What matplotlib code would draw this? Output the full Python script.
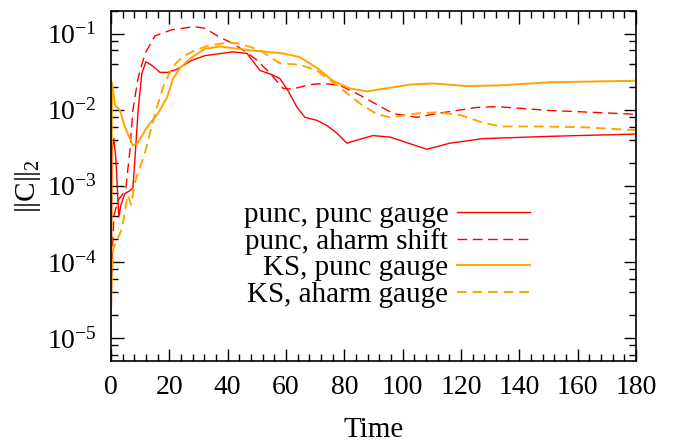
import numpy as np
import matplotlib
matplotlib.use("Agg")
import matplotlib.pyplot as plt
from matplotlib.ticker import LogLocator, MultipleLocator

# ---- data (time, log10 ||C||_2) ----
t_pp = [0, 0.35, 1.0, 1.7, 2.4, 2.7, 3.4, 4.8, 6.2, 7.5, 8.2, 9.3, 10.6, 12.0, 14.1,
        16.8, 19.5, 22.6, 27.8, 32.2, 41.8, 46.6, 51.1, 55.2, 57.9, 60.7, 63.8, 66.5,
        70.6, 74.1, 77.5, 80.9, 84.3, 89.8, 95.7, 108.3, 116.2, 127.5, 150.5, 180]
c_pp = [-4.9, -2.53, -2.38, -2.66, -3.19, -3.41, -3.25, -3.10, -3.07, -3.03, -2.66, -2.01,
        -1.52, -1.37, -1.42, -1.51, -1.51, -1.47, -1.35, -1.29, -1.24, -1.26, -1.485,
        -1.54, -1.59, -1.75, -1.97, -2.10, -2.14, -2.21, -2.31, -2.44, -2.40, -2.34,
        -2.36, -2.52, -2.44, -2.38, -2.35, -2.32]

t_pa = [0, 0.35, 1.0, 2.4, 3.8, 5.1, 6.5, 7.5, 9.3, 11.7, 15.1, 20.9, 26.4, 28.8, 32.2,
        37.4, 41.8, 46.6, 50.1, 54.5, 59.0, 62.1, 68.2, 72.7, 78.5, 85.4, 96.7, 104.9,
        111.8, 125.5, 132.3, 150.5, 180]
c_pa = [-5.0, -3.98, -3.39, -3.19, -3.12, -3.03, -2.53, -2.01, -1.58, -1.26, -1.03,
        -0.95, -0.92, -0.91, -0.93, -1.05, -1.13, -1.25, -1.35, -1.52, -1.72, -1.73,
        -1.67, -1.655, -1.68, -1.81, -2.05, -2.10, -2.05, -1.97, -1.96, -2.01, -2.06]

t_kp = [0, 0.34, 1.4, 3.1, 4.8, 7.5, 9.3, 12.7, 16.1, 19.2, 21.3, 23.7, 27.8, 32.2,
        37.4, 47.7, 59.0, 64.8, 70.6, 76.1, 81.9, 87.8, 102.5, 110.4, 122.1, 133.4,
        150.5, 180]
c_kp = [-5.0, -1.64, -1.94, -2.01, -2.23, -2.47, -2.43, -2.21, -2.05, -1.84, -1.59,
        -1.45, -1.31, -1.20, -1.17, -1.22, -1.26, -1.31, -1.45, -1.62, -1.72, -1.76,
        -1.67, -1.655, -1.69, -1.68, -1.64, -1.62]

t_ka = [0, 0.7, 2.1, 3.8, 5.1, 5.8, 6.9, 8.2, 11.7, 15.1, 17.8, 20.9, 24.3, 28.8, 33.3,
        39.8, 44.2, 51.1, 57.9, 64.8, 70.6, 78.5, 85.4, 91.2, 95.7, 104.9, 111.8,
        119.7, 127.5, 133.4, 144.7, 161.8, 180]
c_ka = [-4.5, -3.84, -3.71, -3.56, -3.25, -3.12, -3.25, -2.95, -2.56, -2.05, -1.71,
        -1.45, -1.31, -1.22, -1.16, -1.12, -1.13, -1.22, -1.39, -1.41, -1.485, -1.71,
        -1.92, -2.06, -2.10, -2.05, -2.035, -2.07, -2.17, -2.22, -2.22, -2.23, -2.27]

labels = ["punc, punc gauge", "punc, aharm shift", "KS, punc gauge", "KS, aharm gauge"]

plt.rcParams['font.family'] = ['Liberation Serif', 'DejaVu Serif']
plt.rcParams['mathtext.default'] = 'regular'
fs = 21

fig = plt.figure(figsize=(6.75, 4.44), dpi=100)
ax = fig.add_axes([0.1644, 0.187, 0.7778, 0.789])

red = '#ff0000'
orange = '#ffa500'
ax.plot(t_pp, 10 ** np.array(c_pp), color=red, lw=1.0, label=labels[0])
ax.plot(t_pa, 10 ** np.array(c_pa), color=red, lw=1.0, dashes=(7, 4), label=labels[1])
ax.plot(t_kp, 10 ** np.array(c_kp), color=orange, lw=1.4, label=labels[2])
ax.plot(t_ka, 10 ** np.array(c_ka), color=orange, lw=1.4, dashes=(5, 3), label=labels[3])

ax.set_yscale('log')
ax.set_xlim(0, 180)
ax.set_ylim(5e-6, 0.2)
ax.xaxis.set_major_locator(MultipleLocator(20))
ax.xaxis.set_minor_locator(MultipleLocator(4))
ax.yaxis.set_major_locator(LogLocator(base=10, numticks=20))
ax.yaxis.set_minor_locator(LogLocator(base=10, subs=(2, 4, 6, 8), numticks=20))
ax.tick_params(which='both', direction='in', top=True, right=True, labelsize=20, width=1)
ax.tick_params(which='major', length=9, pad=10)
ax.tick_params(which='minor', length=5)
for s in ax.spines.values():
    s.set_linewidth(1.2)

ax.set_xlabel('Time', fontsize=fs, labelpad=12)
ax.set_ylabel('||C||$_2$', fontsize=fs)
ax.yaxis.set_label_coords(-0.13, 0.5)

ax.legend(loc='upper right', bbox_to_anchor=(0.798, 0.455), frameon=False, fontsize=fs,
          markerfirst=False, handlelength=2.5, handletextpad=0.3, labelspacing=0.0,
          borderpad=0, borderaxespad=0)

fig.savefig('out.png', dpi=100)
